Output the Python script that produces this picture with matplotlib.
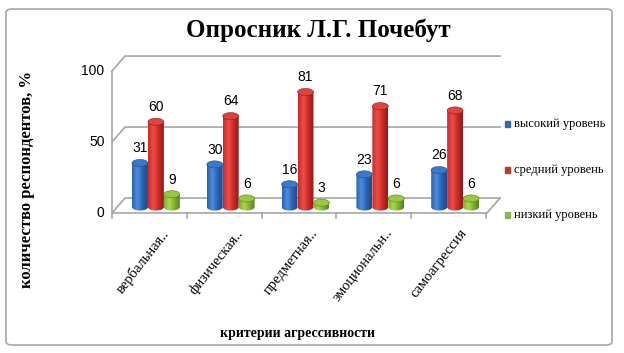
import numpy as np
import matplotlib
matplotlib.use("Agg")
import matplotlib.pyplot as plt
from matplotlib.patches import Polygon, Ellipse, Rectangle, FancyBboxPatch
from matplotlib.colors import LinearSegmentedColormap

categories = ["вербальная..", "физическая..", "предметная..", "эмоциональн..", "самоагрессия"]
series_names = ["высокий уровень", "средний уровень", "низкий уровень"]
high = [31, 30, 16, 23, 26]
mid = [60, 64, 81, 71, 68]
low = [9, 6, 3, 6, 6]
yticks = [0, 50, 100]

# shading for cylinders: edge, highlight, dark edge, top face, legend
shades = [
    ("#2a62b0", "#4d8de0", "#1c4a8c", "#3a78cc", "#3566b5"),
    ("#c62b28", "#ef4d47", "#8f1a18", "#dd4440", "#c0392b"),
    ("#7fb02e", "#a9d950", "#587f1c", "#96c840", "#8db843"),
]

W, H = 624, 353
fig = plt.figure(figsize=(W / 100, H / 100), dpi=100)

# outer frame
fig.patches.append(FancyBboxPatch((6 / W, 8 / H), 606 / W, 336 / H,
                                  boxstyle="round,pad=0,rounding_size=0.01",
                                  transform=fig.transFigure, fill=False,
                                  edgecolor="#a8a8a8", lw=1.2))

# axes placed so that pixel mapping is easy
L, R, T, B = 100, 510, 45, 225
ax = fig.add_axes([L / W, (H - B) / H, (R - L) / W, (B - T) / H])
ax.set_xlim((L - 112) / 74.8 - 0.5, (R - 112) / 74.8 - 0.5)
ax.set_ylim((207 - B) / 1.42, (207 - T) / 1.42)
ax.axis("off")

num_font = ["Liberation Sans", "DejaVu Sans"]
front, back = -4.2, 6.3
dx = 13 / 74.8
gc = "#a6a6a6"
# walls / gridlines
for v in yticks:
    ax.plot([-0.5, -0.5 + dx, 4.687], [v + front, v + back, v + back], color=gc, lw=1.2, clip_on=False)
    ax.text(-0.6, v + front, str(v), ha="right", va="center", fontsize=10, family=num_font)
ax.plot([-0.5, -0.5], [front, 100 + front], color=gc, lw=1.2, clip_on=False)
ax.plot([-0.5, 4.513, 4.687], [front, front, back], color=gc, lw=1.2, clip_on=False)
for i in range(len(categories) + 1):
    ax.plot([i - 0.5, i - 0.5], [front, front - 3.5], color=gc, lw=1.2, clip_on=False)

bw = 0.213
eh = 5.0  # ellipse height in data units
t = np.linspace(0, np.pi, 40)
grad = np.linspace(0, 1, 64).reshape(1, -1)
for k, vals in enumerate([high, mid, low]):
    c0, c1, c2, ctop, _ = shades[k]
    cmap = LinearSegmentedColormap.from_list("cyl%d" % k, [c0, c1, c0, c2])
    for i, v in enumerate(vals):
        xc = i + 0.087 + (k - 1) * 0.213
        xs_top = xc - bw / 2 * np.cos(t)
        xs_bot = xc + bw / 2 * np.cos(t)
        ys_bot = -eh / 2 * np.sin(t)
        pts = np.column_stack([np.r_[xs_top, xs_bot], np.r_[np.full_like(t, v), ys_bot]])
        body = Polygon(pts, closed=True, facecolor="none", edgecolor="none")
        ax.add_patch(body)
        im = ax.imshow(grad, cmap=cmap, aspect="auto",
                       extent=[xc - bw / 2, xc + bw / 2, -eh / 2, v + eh / 2], zorder=2)
        im.set_clip_path(body)
        ax.add_patch(Ellipse((xc, v), bw, eh, facecolor=ctop, edgecolor=c2, lw=0.4, zorder=3))
        ax.annotate(str(v), (xc, v + eh / 2), xytext=(0, 3), textcoords="offset points",
                    ha="center", va="bottom", fontsize=10, family=num_font)

for i, name in enumerate(categories):
    ax.text(i + 0.15, front - 9.5, name, rotation=52, rotation_mode="anchor",
            ha="right", va="top", fontsize=10.5, family="Liberation Serif")

# legend
for k, name in enumerate(series_names):
    y = 124 + 45.5 * k
    fig.patches.append(Rectangle((505 / W, (H - y - 3) / H), 5 / W, 6 / H,
                                 transform=fig.transFigure, color=shades[k][4]))
    fig.text(514 / W, (H - y) / H, name, ha="left", va="center", fontsize=9,
             family="Liberation Serif")

fig.text(318 / W, (H - 30) / H, "Опросник Л.Г. Почебут", ha="center", va="center",
         fontsize=18, fontweight="bold", family="Liberation Serif")
fig.text(27 / W, (H - 180) / H, "количество респондентов, %", rotation=90,
         ha="center", va="center", fontsize=12, fontweight="bold", family="Liberation Serif")
fig.text(297 / W, (H - 333) / H, "критерии агрессивности", ha="center", va="center",
         fontsize=10, fontweight="bold", family="Liberation Serif")

fig.savefig("out.png", dpi=100)
